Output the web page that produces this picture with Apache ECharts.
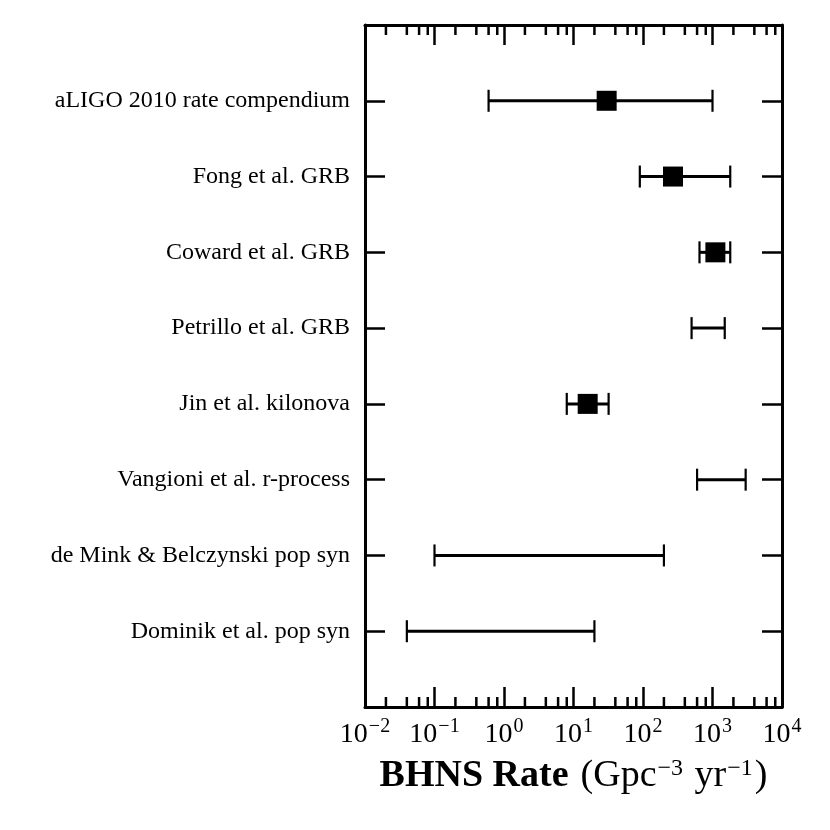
<!DOCTYPE html>
<html>
<head>
<meta charset="utf-8">
<script src="https://cdn.jsdelivr.net/npm/echarts@6/dist/echarts.min.js"></script>
<style>html,body{margin:0;padding:0;background:#fff}#chart{width:830px;height:830px}</style>
</head>
<body>
<div id="chart"></div>
<script>
const categories = [
  'aLIGO 2010 rate compendium',
  'Fong et al. GRB',
  'Coward et al. GRB',
  'Petrillo et al. GRB',
  'Jin et al. kilonova',
  'Vangioni et al. r-process',
  'de Mink & Belczynski pop syn',
  'Dominik et al. pop syn'
];
const lowValues = [0.6, 90, 650, 500, 8, 600, 0.1, 0.04];
const highValues = [1000, 1800, 1800, 1500, 32, 3000, 200, 20];
const centralValues = [30, 270, 1100, null, 16, null, null, null];
const minorTickValues = [0.02,0.04,0.06,0.08,0.2,0.4,0.6,0.8,2,4,6,8,20,40,60,80,200,400,600,800,2000,4000,6000,8000];
const xMin = 0.01, xMax = 10000;

const FONT = 'Liberation Serif';
const chart = echarts.init(document.getElementById('chart'));

const errData = categories.map((c, i) => [lowValues[i], highValues[i], i + 1]);
const ptData = centralValues.map((v, i) => v == null ? null : [v, i + 1]).filter(d => d);

function supLabel(v) {
  const e = Math.round(Math.log10(v));
  return '{b|10}{s|' + (e < 0 ? '\u2212' + (-e) : e) + '}';
}

function mkAxisLine() { return { show: true, onZero: false, lineStyle: { color: '#000', width: 3 } }; }
function mkTick() { return { show: true, inside: true, length: 20, lineStyle: { color: '#000', width: 2.5 } }; }

function xAxisBase(pos) {
  return {
    type: 'log', logBase: 10, min: xMin, max: xMax, interval: 1,
    position: pos,
    axisLine: mkAxisLine(),
    axisTick: mkTick(),
    minorTick: { show: false },
    splitLine: { show: false }
  };
}
function yAxisBase(pos) {
  return {
    type: 'value', min: 0, max: 9, interval: 1, inverse: true,
    position: pos,
    axisLine: mkAxisLine(),
    axisTick: mkTick(),
    splitLine: { show: false }
  };
}

const xBottom = xAxisBase('bottom');
xBottom.axisLabel = {
  show: true, margin: 10, showMinLabel: true, showMaxLabel: true,
  formatter: supLabel,
  rich: {
    b: { fontFamily: FONT, fontSize: 28, color: '#000', verticalAlign: 'bottom' },
    s: { fontFamily: FONT, fontSize: 20, color: '#000', verticalAlign: 'bottom', padding: [0, 0, 12, 1] }
  }
};
xBottom.name = '{a|BHNS Rate}{p|(Gpc}{s|\u22123}{p| yr}{s|\u22121}{p|)}';
xBottom.nameLocation = 'middle';
xBottom.nameGap = 50;
xBottom.nameTextStyle = {
  rich: {
    a: { fontFamily: FONT, fontSize: 38, fontWeight: 'bold', color: '#000', verticalAlign: 'bottom', padding: [0, 12, 0, 0] },
    p: { fontFamily: FONT, fontSize: 38, color: '#000', verticalAlign: 'bottom' },
    s: { fontFamily: FONT, fontSize: 24, color: '#000', verticalAlign: 'bottom', padding: [0, 2, 14, 1] }
  }
};
const xTop = xAxisBase('top');
xTop.axisLabel = { show: false };

const yLeft = yAxisBase('left');
yLeft.axisLabel = {
  show: true, margin: 15,
  fontFamily: FONT, fontSize: 24, color: '#000',
  formatter: v => categories[v - 1] || ''
};
const yRight = yAxisBase('right');
yRight.axisLabel = { show: false };

chart.setOption({
  animation: false,
  backgroundColor: '#fff',
  grid: { left: 365, right: 48, top: 25, bottom: 123, containLabel: false },
  xAxis: [xBottom, xTop],
  yAxis: [yLeft, yRight],
  series: [
    {
      type: 'custom',
      name: 'minorTicks',
      xAxisIndex: 0, yAxisIndex: 0,
      data: minorTickValues.map(v => [v, 0]),
      encode: { x: 0, y: 1 },
      silent: true,
      renderItem: function (params, api) {
        const v = api.value(0);
        const pt = api.coord([v, 0]);
        const pb = api.coord([v, 9]);
        const st = { stroke: '#000', lineWidth: 2.5 };
        return {
          type: 'group',
          children: [
            { type: 'line', shape: { x1: pb[0], y1: pb[1], x2: pb[0], y2: pb[1] - 10 }, style: st },
            { type: 'line', shape: { x1: pt[0], y1: pt[1], x2: pt[0], y2: pt[1] + 10 }, style: st }
          ]
        };
      }
    },
    {
      type: 'custom',
      name: 'range',
      xAxisIndex: 0, yAxisIndex: 0,
      data: errData,
      encode: { x: [0, 1], y: 2 },
      renderItem: function (params, api) {
        const y = api.value(2);
        const p1 = api.coord([api.value(0), y]);
        const p2 = api.coord([api.value(1), y]);
        const h = 11;
        return {
          type: 'group',
          children: [
            { type: 'line', shape: { x1: p1[0], y1: p1[1], x2: p2[0], y2: p2[1] }, style: { stroke: '#000', lineWidth: 3 } },
            { type: 'line', shape: { x1: p1[0], y1: p1[1] - h, x2: p1[0], y2: p1[1] + h }, style: { stroke: '#000', lineWidth: 2.2 } },
            { type: 'line', shape: { x1: p2[0], y1: p2[1] - h, x2: p2[0], y2: p2[1] + h }, style: { stroke: '#000', lineWidth: 2.2 } }
          ]
        };
      },
      z: 3
    },
    {
      type: 'scatter',
      name: 'central',
      xAxisIndex: 0, yAxisIndex: 0,
      data: ptData,
      symbol: 'rect',
      symbolSize: 20,
      itemStyle: { color: '#000', opacity: 1 },
      z: 4
    }
  ]
});
</script>
</body>
</html>
